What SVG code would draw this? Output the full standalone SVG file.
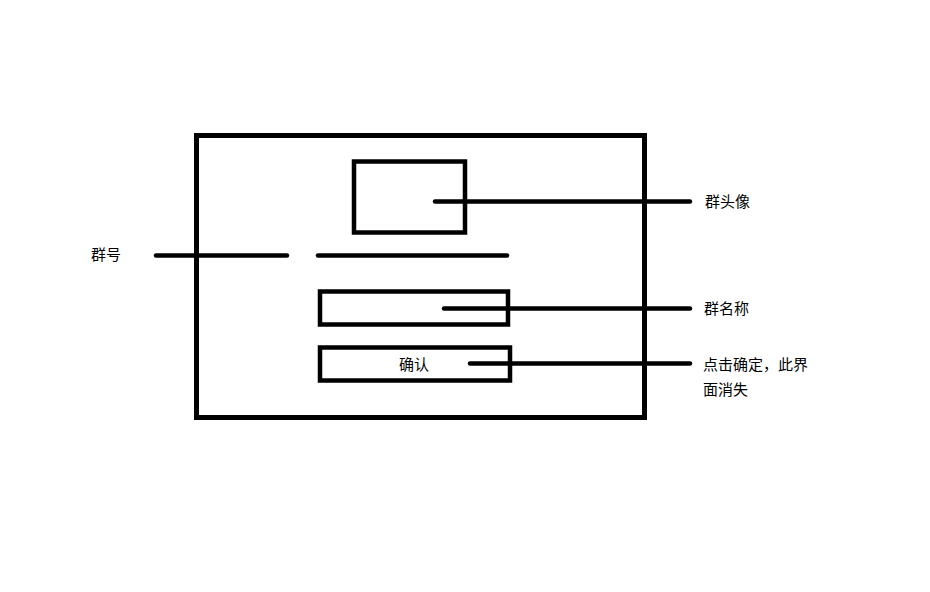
<svg xmlns="http://www.w3.org/2000/svg" width="930" height="592" viewBox="0 0 930 592">
  <style>
    .box { fill: none; stroke: #000; stroke-width: 5; }
    .inner { fill: none; stroke: #000; stroke-width: 4.5; }
    .lead { stroke: #000; stroke-width: 4.5; stroke-linecap: round; fill: none; }
    text { font-family: "Noto Sans CJK SC", "Microsoft YaHei", sans-serif; font-size: 15px; fill: #000; }
  </style>
  <rect width="930" height="592" fill="#fff"/>

  <g id="dialog">
    <rect class="box" x="196.5" y="135.5" width="448" height="282"/>
  </g>
  <g id="avatar">
    <rect class="inner" x="354" y="161.5" width="111" height="71"/>
  </g>
  <g id="group-number-field">
    <line class="lead" x1="318" y1="255.5" x2="507" y2="255.5"/>
  </g>
  <g id="name-field">
    <rect class="inner" x="320" y="291.5" width="188" height="33"/>
  </g>
  <g id="confirm-button">
    <rect class="inner" x="320" y="347.5" width="190" height="33"/>
    <text x="414" y="370" text-anchor="middle">确认</text>
  </g>

  <g id="label-group-number">
    <text x="91" y="260">群号</text>
  </g>
  <g id="label-avatar">
    <text x="705" y="207">群头像</text>
  </g>
  <g id="label-name">
    <text x="704" y="314">群名称</text>
  </g>
  <g id="label-confirm">
    <text x="703" y="370">点击确定，此界</text>
    <text x="703" y="395">面消失</text>
  </g>

  <g id="connectors">
    <line class="lead" x1="156" y1="255.5" x2="287" y2="255.5"/>
    <line class="lead" x1="435" y1="201.5" x2="690" y2="201.5"/>
    <line class="lead" x1="444" y1="308.5" x2="690" y2="308.5"/>
    <line class="lead" x1="470" y1="363.5" x2="690" y2="363.5"/>
  </g>
</svg>
